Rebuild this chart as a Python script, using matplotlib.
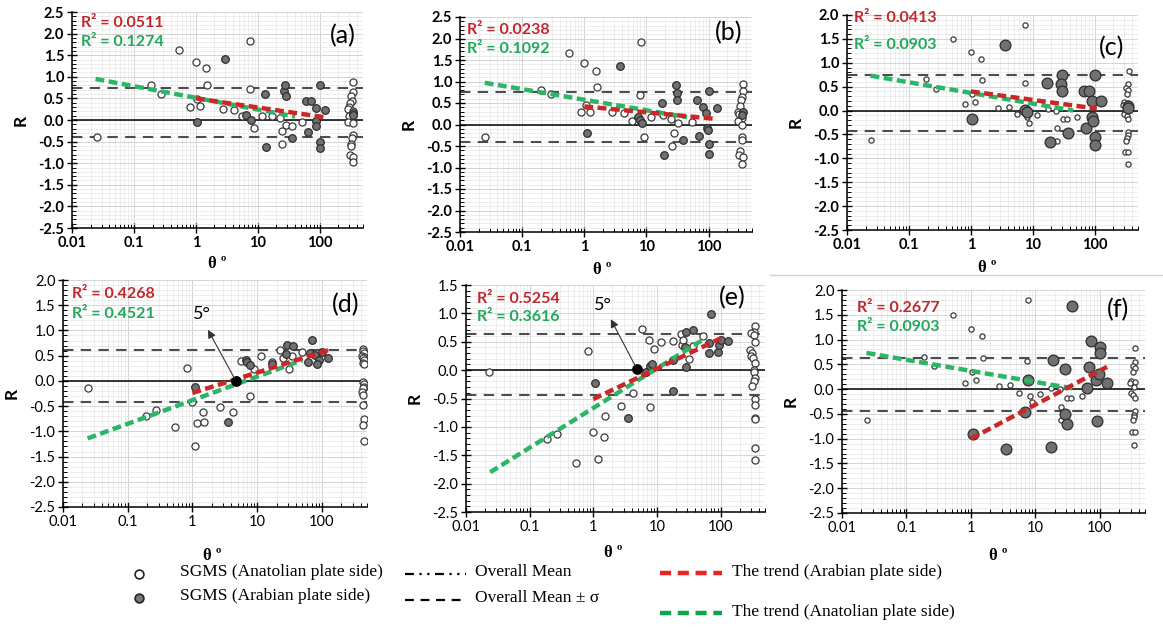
import numpy as np
import matplotlib
matplotlib.use("Agg")
import matplotlib.pyplot as plt
from matplotlib.ticker import FixedLocator, MultipleLocator, FuncFormatter, LogLocator, NullFormatter
from matplotlib.lines import Line2D

# ---------------- data ----------------
# panel (a)
a_ana_x = [0.025, 0.19, 0.27, 0.53, 0.81, 1.0, 1.05, 1.17, 1.46, 1.54, 2.7, 4.1, 5.6, 7.6, 7.6, 8.7, 11.6, 17, 23, 25, 24.5, 29, 35.5, 51,
           350, 345, 320, 335, 305, 300, 285, 340, 350, 295, 285, 340, 340, 335, 325, 325, 310, 350, 340]
a_ana_r = [-0.40, 0.80, 0.61, 1.62, 0.30, 1.35, 0.48, 0.32, 1.21, 0.82, 0.26, 0.23, 0.10, 1.83, 0.72, -0.19, 0.10, 0.10, 0.05, -0.25, -0.55, -0.11, -0.13, -0.05,
           0.88, 0.65, 0.55, 0.45, 0.40, 0.30, 0.25, 0.20, 0.15, 0.10, -0.05, -0.08, -0.35, -0.42, -0.55, -0.60, -0.80, -0.85, -0.97]
a_ara_x = [1.04, 3.0, 6.5, 7.8, 13, 13.5, 27, 28, 28.5, 35.5, 60, 71, 64, 86, 86, 88, 100, 100, 100, 123, 340, 345]
a_ara_r = [-0.05, 1.42, 0.11, 0.01, 0.61, -0.63, 0.68, 0.81, 0.55, -0.42, 0.45, 0.43, -0.28, 0.28, -0.03, -0.15, 0.81, -0.50, -0.65, 0.24, 0.17, 0.12]

# panel (b)
b_ana_x = [0.025, 0.20, 0.29, 0.56, 0.87, 1.0, 1.08, 1.25, 1.56, 1.6, 2.8, 4.4, 5.9, 8.1, 8.0, 9.3, 12, 18.6, 25, 28, 26, 32, 55,
           360, 355, 350, 330, 320, 300, 310, 350, 300, 340, 350, 340, 320, 310, 355, 340]
b_ana_r = [-0.30, 0.81, 0.71, 1.66, 0.30, 1.44, 0.46, 0.30, 1.25, 0.88, 0.30, 0.26, 0.09, 1.92, 0.69, -0.28, 0.17, 0.22, 0.12, -0.19, -0.51, 0.03, 0.05,
           0.95, 0.77, 0.63, 0.57, 0.42, 0.30, 0.25, 0.15, 0.08, 0.0, -0.30, -0.35, -0.62, -0.72, -0.75, -0.93]
b_ara_x = [1.1, 3.7, 7.4, 8.0, 8.5, 18, 19, 30, 31, 31, 39, 66, 70, 80, 91, 96, 98, 100, 100, 100, 138, 355, 350]
b_ara_r = [-0.20, 1.37, 0.18, 0.10, 0.04, 0.51, -0.70, 0.92, 0.73, 0.56, -0.36, 0.56, -0.27, 0.40, 0.26, -0.07, -0.13, 0.79, -0.46, -0.68, 0.38, 0.30, 0.22]

# panels (c) and (f) share the Anatolian side points
cf_ana_x = [0.024, 0.19, 0.27, 0.52, 0.8, 0.99, 1.05, 1.18, 1.47, 1.52, 2.75, 4.1, 5.6, 7.6, 7.5, 8.1, 8.7, 11.8, 17.3, 24, 25, 24.5, 30.5, 36, 52,
            355, 350, 320, 345, 330, 300, 350, 290, 340, 300, 330, 350, 345, 340, 335, 325, 310, 345, 340]
cf_ana_r = [-0.62, 0.65, 0.46, 1.50, 0.13, 1.22, 0.35, 0.18, 1.08, 0.63, 0.06, 0.08, -0.07, 1.80, 0.57, -0.14, -0.26, -0.10, 0.03, 0.0, -0.36, -0.63, -0.17, -0.18, -0.14,
            0.82, 0.55, 0.47, 0.42, 0.35, 0.17, 0.15, 0.12, 0.05, -0.08, -0.12, -0.17, -0.45, -0.52, -0.57, -0.63, -0.86, -0.86, -1.12]
c_ara_x = [1.05, 3.5, 7.4, 8.0, 17, 19, 29.5, 29, 30, 37, 66, 80, 71, 90, 90, 93, 100, 100, 100, 127, 340, 350]
c_ara_r = [-0.18, 1.37, 0.01, -0.02, 0.57, -0.66, 0.75, 0.55, 0.40, -0.46, 0.41, 0.41, -0.36, 0.19, -0.13, -0.21, 0.75, -0.56, -0.73, 0.19, 0.10, 0.05]

# panel (d)
d_ana_x = [0.024, 0.19, 0.27, 0.53, 0.83, 0.99, 1.08, 1.18, 1.48, 1.53, 2.7, 4.2, 5.6, 7.7, 9.0, 11.7, 17, 23, 25, 31, 35, 50,
           440, 430, 450, 420, 455, 435, 445, 430, 450, 440, 445, 450, 440, 425, 430, 440, 445, 440, 445]
d_ana_r = [-0.14, -0.70, -0.57, -0.91, 0.26, -0.42, -1.29, -0.83, -0.62, -0.82, -0.52, -0.62, 0.40, -0.30, 0.24, 0.49, 0.38, 0.61, 0.46, 0.24, 0.49, 0.58,
           0.64, 0.60, 0.55, 0.50, 0.48, 0.45, 0.42, 0.35, 0.33, -0.02, -0.07, -0.12, -0.15, -0.22, -0.27, -0.47, -0.76, -0.88, -1.19]
d_ara_x = [1.08, 3.6, 6.7, 7.1, 7.7, 17, 28.6, 28, 36, 70, 66, 62, 78, 90, 83, 100, 126]
d_ara_r = [-0.12, -0.82, 0.42, 0.38, 0.31, 0.33, 0.71, 0.53, 0.69, 0.82, 0.56, 0.38, 0.51, 0.41, 0.34, 0.58, 0.46]

# panel (e)
e_ana_x = [0.023, 0.19, 0.27, 0.53, 0.82, 1.0, 1.18, 1.52, 1.5, 2.76, 4.2, 5.8, 7.6, 7.8, 8.9, 11.6, 18, 23.5, 25, 26, 32, 37, 53,
           350, 340, 300, 330, 345, 290, 310, 300, 320, 350, 340, 330, 350, 335, 310, 345, 350, 345, 350, 345, 345]
e_ana_r = [-0.04, -1.21, -1.12, -1.64, 0.34, -1.09, -1.57, -0.80, -1.18, -0.64, -0.40, 0.73, 0.53, -0.65, 0.38, 0.50, 0.52, 0.63, 0.44, 0.53, 0.19, 0.42, 0.60,
           0.77, 0.68, 0.65, 0.62, 0.50, 0.35, 0.30, 0.25, 0.22, 0.12, 0.0, -0.03, -0.13, -0.20, -0.28, -0.50, -0.62, -0.85, -0.87, -1.37, -1.58]
e_ara_x = [1.05, 3.5, 6.8, 7.8, 8.3, 18, 17.6, 29, 28, 29, 37, 71, 66, 66, 91, 96, 100, 130]
e_ara_r = [-0.22, -0.85, -0.03, 0.07, 0.10, 0.17, -0.37, 0.67, 0.40, 0.06, 0.70, 0.99, 0.48, 0.30, 0.32, 0.44, 0.53, 0.52]

# panel (f)
f_ara_x = [1.06, 3.5, 7.0, 7.8, 18.5, 17.7, 29, 28.5, 31, 37, 63, 67, 74, 87, 90, 98, 101, 101, 129]
f_ara_r = [-0.90, -1.21, -0.46, 0.19, 0.58, -1.16, 0.40, -0.50, -0.71, 1.68, 0.03, 0.45, 0.97, 0.18, -0.64, 0.30, 0.84, 0.72, 0.12]

# trend line end points (theta, R)
green_trend = {"a": ([0.024, 40], [0.95, 0.08]), "b": ([0.025, 45], [0.97, 0.17]), "c": ([0.024, 45], [0.73, 0.0]),
               "d": ([0.024, 50], [-1.14, 0.41]), "e": ([0.024, 52], [-1.80, 0.53]), "f": ([0.024, 44], [0.73, 0.0])}
red_trend = {"a": ([1.0, 125], [0.50, 0.06]), "b": ([1.0, 130], [0.42, 0.13]), "c": ([1.0, 108], [0.40, 0.04]),
             "d": ([1.0, 126], [-0.24, 0.61]), "e": ([1.0, 100], [-0.51, 0.56]), "f": ([1.0, 129], [-1.0, 0.45])}
r2_red = {"a": "0.0511", "b": "0.0238", "c": "0.0413", "d": "0.4268", "e": "0.5254", "f": "0.2677"}
r2_green = {"a": "0.1274", "b": "0.1092", "c": "0.0903", "d": "0.4521", "e": "0.3616", "f": "0.0903"}
mean_sigma = {"a": (0.75, -0.40), "b": (0.75, -0.40), "c": (0.75, -0.42), "d": (0.62, -0.42), "e": (0.63, -0.43), "f": (0.62, -0.44)}
y_top = {"a": 2.5, "b": 2.5, "c": 2.0, "d": 2.0, "e": 1.5, "f": 2.0}
five_deg = {"d": (4.7, 0.0), "e": (4.85, 0.02)}

RED = "#cc2727"
GREEN = "#2bb566"
W, H = 1163, 628

fig = plt.figure(figsize=(W / 100, H / 100), dpi=100)

# axes boxes in pixels: left, top, right, bottom
boxes = {"a": (72, 12, 363, 228), "b": (460, 17, 752, 232), "c": (847, 15, 1138, 230),
         "d": (63, 280, 367, 507), "e": (466, 285, 765, 512), "f": (842, 290, 1145, 513)}
label_pos = {"a": (0.93, 0.89), "b": (0.92, 0.925), "c": (0.91, 0.85), "d": (0.93, 0.89), "e": (0.89, 0.945), "f": (0.91, 0.91)}
r2_pos = {"a": (0.03, 0.95, 0.86), "b": (0.025, 0.94, 0.85), "c": (0.025, 0.985, 0.86),
          "d": (0.03, 0.94, 0.85), "e": (0.037, 0.94, 0.86), "f": (0.05, 0.92, 0.835)}

panels = {
    "a": (a_ana_x, a_ana_r, a_ara_x, a_ara_r),
    "b": (b_ana_x, b_ana_r, b_ara_x, b_ara_r),
    "c": (cf_ana_x, cf_ana_r, c_ara_x, c_ara_r),
    "d": (d_ana_x, d_ana_r, d_ara_x, d_ara_r),
    "e": (e_ana_x, e_ana_r, e_ara_x, e_ara_r),
    "f": (cf_ana_x, cf_ana_r, f_ara_x, f_ara_r),
}

for key, (ax_x, ax_r, ar_x, ar_r) in panels.items():
    l, t, r, b = boxes[key]
    ax = fig.add_axes([l / W, 1 - b / H, (r - l) / W, (b - t) / H])
    upper = key in "abc"
    weight = "bold" if upper else "normal"

    ax.set_xscale("log")
    ax.set_xlim(0.01, 500)
    ax.set_ylim(-2.5, y_top[key])

    # grid
    ax.grid(True, which="major", color="#d4d4d4", lw=0.7, zorder=0)
    ax.grid(True, which="minor", color="#e6e6e6", lw=0.5, zorder=0)
    ax.set_axisbelow(True)

    # reference lines
    ax.axhline(0, color="black", lw=1.1, zorder=2)
    hi, lo = mean_sigma[key]
    for yv in (hi, lo):
        ax.axhline(yv, color="#4d4d4d", lw=1.5, dashes=(5, 3.5), zorder=2)

    big = key in "cf"
    s_open = 14 if big else 26
    s_fill = 60 if big else 30
    ax.scatter(ax_x, ax_r, s=s_open, facecolor="white", edgecolor="#3a3a3a", lw=0.9, zorder=3)
    ax.scatter(ar_x, ar_r, s=s_fill, facecolor="#707070", edgecolor="#2e2e2e", lw=0.9, zorder=3)

    gx, gy = green_trend[key]
    rx, ry = red_trend[key]
    ax.plot(gx, gy, color=GREEN, lw=3.2, dashes=(2.0, 1.0), zorder=4)
    ax.plot(rx, ry, color=RED, lw=3.2, dashes=(2.0, 1.0), zorder=4)

    if key in five_deg:
        px, py = five_deg[key]
        ax.scatter([px], [py], s=45, color="black", zorder=5)
        tip = (1.66, 1.06) if key == "d" else (1.8, 0.94)
        ax.annotate("", xy=tip, xytext=(px, py),
                    arrowprops=dict(arrowstyle="-|>", color="#333333", lw=0.8, mutation_scale=12), zorder=5)
        txt_y = 1.33 if key == "d" else 1.15
        ax.text(1.4, txt_y, "5°", fontsize=13, ha="center", va="center", family="Lato")

    # R2 texts and panel label
    xr, yr1, yr2 = r2_pos[key]
    ax.text(xr, yr1, "R² = " + r2_red[key], transform=ax.transAxes, color="#c0282d",
            fontsize=11.5, fontweight="bold", family="Lato", va="center")
    ax.text(xr, yr2, "R² = " + r2_green[key], transform=ax.transAxes, color="#22a85a",
            fontsize=11.5, fontweight="bold", family="Lato", va="center")
    lx, ly = label_pos[key]
    ax.text(lx, ly, f"({key})", transform=ax.transAxes, fontsize=18, family="Lato",
            ha="center", va="center")

    # axes styling
    for sp in ("top", "right"):
        ax.spines[sp].set_visible(False)
    for sp in ("left", "bottom"):
        ax.spines[sp].set_color("black")
        ax.spines[sp].set_linewidth(1.1)

    ax.xaxis.set_major_locator(FixedLocator([0.01, 0.1, 1, 10, 100]))
    ax.xaxis.set_major_formatter(FuncFormatter(lambda v, p: f"{v:g}"))
    ax.xaxis.set_minor_locator(LogLocator(base=10, subs=np.arange(2, 10), numticks=20))
    ax.xaxis.set_minor_formatter(NullFormatter())
    ax.yaxis.set_major_locator(MultipleLocator(0.5))
    ax.yaxis.set_minor_locator(MultipleLocator(0.1))
    ax.yaxis.set_major_formatter(FuncFormatter(lambda v, p: f"{v:.1f}"))
    ax.tick_params(which="major", direction="inout", length=7, width=1.0, labelsize=10.5, pad=2)
    ax.tick_params(which="minor", direction="in", length=3, width=0.7)
    for lab in ax.get_xticklabels() + ax.get_yticklabels():
        lab.set_family("Lato")
        lab.set_fontweight(weight)

    ax.set_ylabel("R", fontsize=12.5, fontweight="bold", family="Lato", labelpad=7)

# x axis labels (theta) placed under each panel
theta_pos = [(217, 264), (602, 270), (987, 268), (212, 556), (613, 553), (998, 556)]
for x, y in theta_pos:
    fig.text(x / W, 1 - y / H, "θ º", fontsize=12, fontweight="bold", family="Liberation Serif",
             ha="center", va="center")

# thin separator line at the upper right
fig.add_artist(Line2D([770 / W, 1.0], [1 - 275 / H, 1 - 275 / H], color="#cfcfcf", lw=1.0))

# legend drawn at the bottom
lg = fig.add_axes([0, 0, 1, 1], facecolor="none")
lg.set_xlim(0, W)
lg.set_ylim(H, 0)
lg.axis("off")
lg.scatter([139], [574], s=40, facecolor="white", edgecolor="#222222", lw=1.2)
lg.scatter([139], [598], s=40, facecolor="#777777", edgecolor="#222222", lw=1.2)
lg.plot([405, 466], [574, 574], color="black", lw=1.6, dashes=(4, 2.5, 1, 2.5, 1, 2.5))
lg.plot([405, 466], [600, 600], color="black", lw=1.6, dashes=(4, 3))
lg.plot([660, 722], [573, 573], color="#ee2222", lw=3.2, dashes=(2.5, 1.5))
lg.plot([660, 722], [613, 613], color="#0aa84a", lw=3.2, dashes=(2.5, 1.5))
legend_font = dict(fontsize=12.5, family="Liberation Serif", va="center", ha="left")
lg.text(180, 572, "SGMS (Anatolian plate side)", **legend_font)
lg.text(180, 596, "SGMS (Arabian plate side)", **legend_font)
lg.text(475, 572, "Overall Mean", **legend_font)
lg.text(475, 598, "Overall Mean ± σ", **legend_font)
lg.text(732, 572, "The trend (Arabian plate side)", **legend_font)
lg.text(732, 612, "The trend (Anatolian plate side)", **legend_font)

fig.savefig("out.png", dpi=100)
